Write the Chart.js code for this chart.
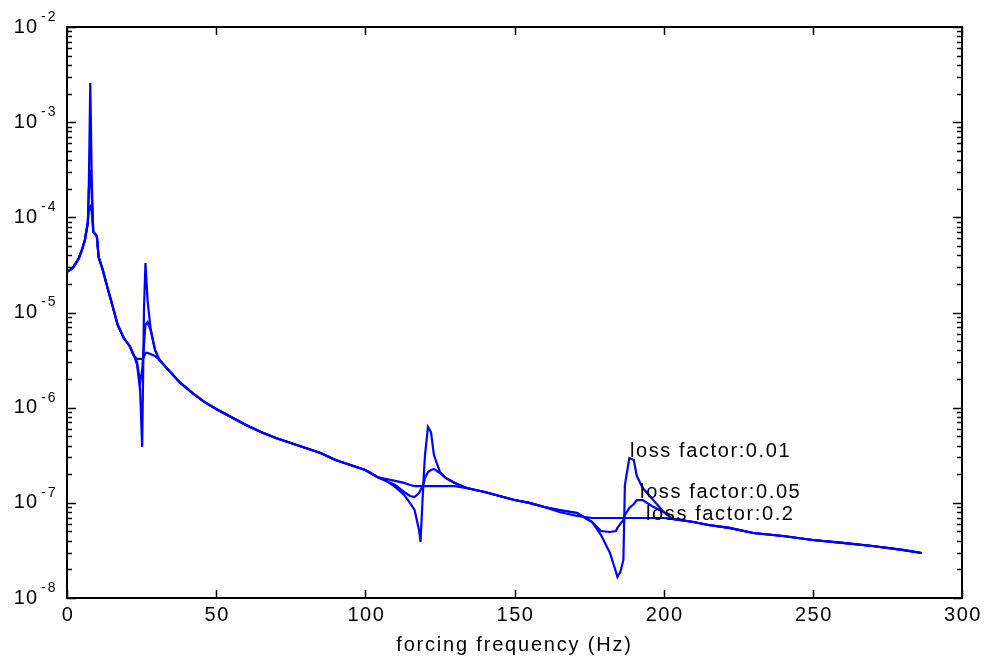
<!DOCTYPE html>
<html>
<head>
<meta charset="utf-8">
<script src="https://cdn.jsdelivr.net/npm/chart.js@4"></script>
<style>
  body { margin: 0; background: #fff; }
  canvas { display: block; }
</style>
</head>
<body>
<canvas id="chart" width="986" height="660"></canvas>
<script>
// forcing frequency (Hz), shared by all three curves
const freq = [0, 2, 4, 5, 6, 7, 7.3, 7.8, 8.3, 8.8, 10, 10.6, 12, 13.5, 15, 17, 19, 21, 22.5,
  23.5, 24.5, 25.2, 25.8, 26.3, 27, 28, 29.5, 31, 34, 38, 42, 46, 50, 55, 60, 65, 70, 75, 80, 85,
  90, 95, 100, 104, 107, 110, 113, 115, 116.5, 118, 118.5, 119.5, 120, 121, 122, 123, 125, 127,
  130, 134, 140, 145, 150, 155, 160, 165, 171, 176, 179, 182, 184, 184.5, 185.5, 186.5, 187,
  188.5, 190, 191, 193, 196, 200, 203, 210, 215, 222, 230, 240, 250, 260, 270, 280, 286.5];

// loss factor 0.01
const amp001 = [2.67e-5, 2.94e-5, 3.74e-5, 4.54e-5, 5.78e-5, 8.9e-5, 1.94e-4, 2.58e-3, 2.47e-4, 7.0e-5,
  6.37e-5, 3.83e-5, 2.80e-5, 1.85e-5, 1.26e-5, 7.40e-6, 5.40e-6, 4.45e-6, 3.49e-6,
  2.81e-6, 1.53e-6, 3.87e-7, 1.06e-5, 3.31e-5, 1.35e-5, 6.87e-6, 4.04e-6, 3.17e-6, 2.49e-6, 1.82e-6,
  1.43e-6, 1.15e-6, 9.68e-7, 7.98e-7, 6.58e-7, 5.55e-7, 4.80e-7, 4.25e-7, 3.77e-7, 3.34e-7,
  2.82e-7, 2.50e-7, 2.21e-7, 1.87e-7, 1.70e-7, 1.47e-7, 1.21e-7, 9.95e-8, 8.41e-8, 5.19e-8, 3.88e-8,
  1.74e-7, 3.18e-7, 6.27e-7, 5.55e-7, 3.18e-7, 2.11e-7, 1.82e-7,
  1.62e-7, 1.43e-7, 1.30e-7, 1.18e-7, 1.07e-7, 1.00e-7, 9.04e-8, 8.41e-8, 7.82e-8, 6.29e-8, 4.59e-8,
  2.97e-8, 1.88e-8, 1.66e-8, 1.88e-8, 2.51e-8, 1.54e-7,
  2.96e-7, 2.82e-7, 1.91e-7, 1.43e-7, 1.12e-7, 8.02e-8, 6.77e-8, 6.29e-8, 5.85e-8, 5.45e-8, 4.82e-8,
  4.48e-8, 4.07e-8, 3.79e-8, 3.52e-8, 3.20e-8, 2.97e-8];

// loss factor 0.05
const amp005 = [2.67e-5, 2.94e-5, 3.74e-5, 4.54e-5, 5.78e-5, 8.9e-5, 1.94e-4, 3.14e-4, 1.72e-4, 7.0e-5,
  6.37e-5, 3.83e-5, 2.80e-5, 1.85e-5, 1.26e-5, 7.40e-6, 5.40e-6, 4.45e-6, 3.49e-6,
  3.02e-6, 1.82e-6, 2.49e-6, 4.56e-6, 7.40e-6, 7.94e-6, 6.54e-6, 4.04e-6, 3.17e-6, 2.49e-6, 1.82e-6,
  1.43e-6, 1.15e-6, 9.68e-7, 7.98e-7, 6.58e-7, 5.55e-7, 4.80e-7, 4.25e-7, 3.77e-7, 3.34e-7,
  2.82e-7, 2.50e-7, 2.21e-7, 1.87e-7, 1.70e-7, 1.54e-7, 1.30e-7, 1.18e-7, 1.15e-7, 1.27e-7, 1.36e-7,
  1.58e-7, 1.82e-7, 2.11e-7, 2.21e-7, 2.27e-7, 2.06e-7, 1.82e-7,
  1.62e-7, 1.43e-7, 1.30e-7, 1.18e-7, 1.07e-7, 1.00e-7, 9.04e-8, 8.41e-8, 7.82e-8, 6.29e-8, 5.06e-8,
  4.94e-8, 5.06e-8, 5.45e-8, 6.00e-8, 6.61e-8, 7.45e-8,
  8.83e-8, 9.72e-8, 1.07e-7, 1.07e-7, 9.27e-8, 8.02e-8, 6.77e-8, 6.29e-8, 5.85e-8, 5.45e-8, 4.82e-8,
  4.48e-8, 4.07e-8, 3.79e-8, 3.52e-8, 3.20e-8, 2.97e-8];

// loss factor 0.2
const amp02 = [2.67e-5, 2.94e-5, 3.74e-5, 4.54e-5, 5.78e-5, 8.9e-5, 1.19e-4, 1.29e-4, 1.14e-4, 7.0e-5,
  6.37e-5, 3.83e-5, 2.80e-5, 1.85e-5, 1.26e-5, 7.40e-6, 5.40e-6, 4.45e-6, 3.49e-6,
  3.25e-6, 3.25e-6, 3.25e-6, 3.41e-6, 3.76e-6, 3.76e-6, 3.67e-6, 3.49e-6, 3.17e-6, 2.49e-6, 1.82e-6,
  1.43e-6, 1.15e-6, 9.68e-7, 7.98e-7, 6.58e-7, 5.55e-7, 4.80e-7, 4.25e-7, 3.77e-7, 3.34e-7,
  2.82e-7, 2.50e-7, 2.21e-7, 1.87e-7, 1.78e-7, 1.70e-7, 1.62e-7, 1.54e-7, 1.50e-7, 1.50e-7, 1.50e-7,
  1.50e-7, 1.50e-7, 1.50e-7, 1.50e-7, 1.50e-7, 1.50e-7, 1.50e-7,
  1.50e-7, 1.43e-7, 1.30e-7, 1.18e-7, 1.07e-7, 1.00e-7, 9.04e-8, 8.02e-8, 7.28e-8, 6.93e-8, 6.93e-8,
  6.93e-8, 6.93e-8, 6.93e-8, 6.93e-8, 6.93e-8, 6.93e-8,
  6.93e-8, 6.93e-8, 6.93e-8, 6.93e-8, 6.93e-8, 6.93e-8, 6.77e-8, 6.29e-8, 5.85e-8, 5.45e-8, 4.82e-8,
  4.48e-8, 4.07e-8, 3.79e-8, 3.52e-8, 3.20e-8, 2.97e-8];

const xTickValues = [0, 50, 100, 150, 200, 250, 300];
const yDecades = [-8, -7, -6, -5, -4, -3, -2];
const xTitle = 'forcing frequency (Hz)';

const noteText = ['loss factor:0.01', 'loss factor:0.05', 'loss factor:0.2'];
const noteFreq = [188.7, 192.1, 194.1];
const noteAmp = [3.5e-7, 1.27e-7, 7.6e-8];

const FONT = '"Liberation Sans", Arial, Helvetica, sans-serif';

function series(amp) {
  return {
    data: freq.map((f, i) => ({ x: f, y: amp[i] })),
    borderColor: '#0000ff',
    borderWidth: 2.2,
    pointRadius: 0,
    tension: 0,
    fill: false
  };
}

// box, inward ticks, tick labels, axis title and the three notes
const decor = {
  id: 'decor',
  afterDraw(chart) {
    const ctx = chart.ctx;
    const a = chart.chartArea;
    const xs = chart.scales.x, ys = chart.scales.y;
    ctx.save();
    ctx.strokeStyle = '#000';
    ctx.fillStyle = '#000';

    ctx.lineWidth = 2;
    ctx.strokeRect(a.left, a.top, a.right - a.left, a.bottom - a.top);

    ctx.lineWidth = 1.5;
    ctx.beginPath();
    xTickValues.forEach(v => {
      const px = Math.round(xs.getPixelForValue(v)) + 0.5;
      ctx.moveTo(px, a.bottom); ctx.lineTo(px, a.bottom - 8);
      ctx.moveTo(px, a.top); ctx.lineTo(px, a.top + 8);
    });
    yDecades.forEach(d => {
      for (let k = 1; k <= 9; k++) {
        if (d === -2 && k > 1) break;
        const py = Math.round(ys.getPixelForValue(k * Math.pow(10, d))) + 0.5;
        const len = k === 1 ? 9 : 5;
        ctx.moveTo(a.left, py); ctx.lineTo(a.left + len, py);
        ctx.moveTo(a.right, py); ctx.lineTo(a.right - len, py);
      }
    });
    ctx.stroke();

    ctx.textBaseline = 'middle';
    ctx.font = '20px ' + FONT;
    ctx.letterSpacing = '1.5px';
    ctx.textAlign = 'center';
    xTickValues.forEach(v => {
      ctx.fillText(String(v), xs.getPixelForValue(v) + 1, a.bottom + 17);
    });
    ctx.letterSpacing = '1.8px';
    ctx.fillText(xTitle, (a.left + a.right) / 2, a.bottom + 47);

    yDecades.forEach(d => {
      const py = ys.getPixelForValue(Math.pow(10, d));
      ctx.font = '20px ' + FONT;
      ctx.letterSpacing = '1px';
      ctx.textAlign = 'right';
      ctx.fillText('10', 38, py);
      ctx.font = '14px ' + FONT;
      ctx.letterSpacing = '2px';
      ctx.textAlign = 'left';
      ctx.fillText(String(d), 41, py - 10);
    });

    ctx.font = '20px ' + FONT;
    ctx.letterSpacing = '1.6px';
    ctx.textAlign = 'left';
    noteText.forEach((t, i) => {
      ctx.fillText(t, xs.getPixelForValue(noteFreq[i]), ys.getPixelForValue(noteAmp[i]));
    });
    ctx.restore();
  }
};

new Chart(document.getElementById('chart'), {
  type: 'line',
  data: { datasets: [series(amp001), series(amp005), series(amp02)] },
  options: {
    responsive: false,
    animation: false,
    layout: { padding: { top: 27, right: 24, left: 0, bottom: 0 } },
    plugins: { legend: { display: false }, tooltip: { enabled: false } },
    scales: {
      x: {
        type: 'linear', min: 0, max: 300,
        ticks: { display: false },
        grid: { display: false },
        border: { display: false },
        afterFit: s => { s.height = 62; }
      },
      y: {
        type: 'logarithmic', min: 1e-8, max: 1e-2,
        ticks: { display: false },
        grid: { display: false },
        border: { display: false },
        afterFit: s => { s.width = 67; }
      }
    }
  },
  plugins: [decor]
});
</script>
</body>
</html>
